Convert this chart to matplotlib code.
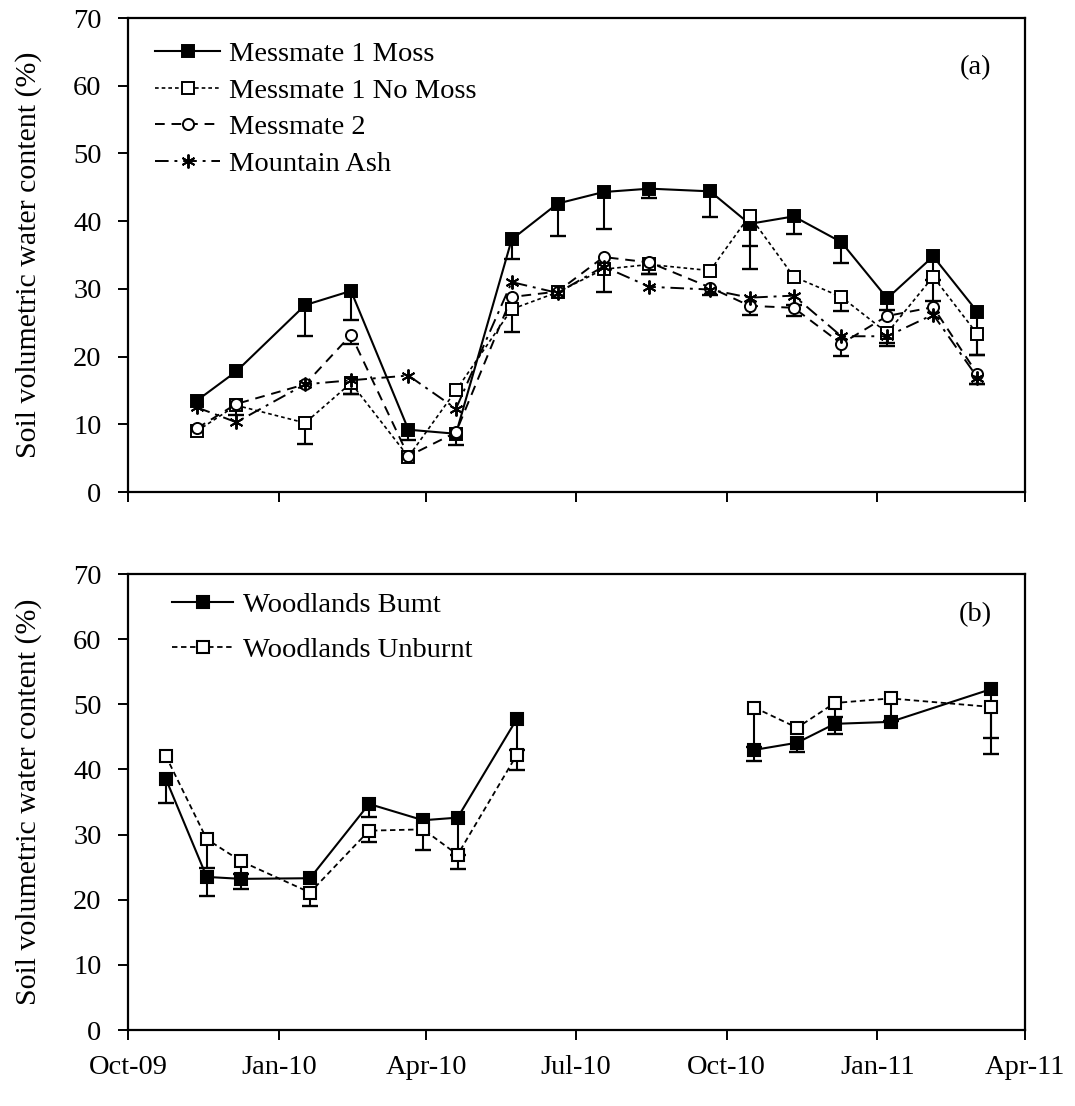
import numpy as np
import pandas as pd
import matplotlib
matplotlib.use("Agg")
import matplotlib.pyplot as plt
import matplotlib.dates as mdates

plt.rcParams['font.family'] = ['Liberation Serif', 'DejaVu Serif']

# ---------------- data: panel (a) ----------------
top_dates = ['2009-11-12', '2009-12-06', '2010-01-17', '2010-02-14', '2010-03-21',
             '2010-04-19', '2010-05-23', '2010-06-20', '2010-07-18', '2010-08-15',
             '2010-09-21', '2010-10-15', '2010-11-11', '2010-12-10', '2011-01-07',
             '2011-02-04', '2011-03-03']
moss = [13.5, 17.8, 27.6, 29.7, 9.2, 8.6, 37.3, 42.6, 44.3, 44.8, 44.4, 39.6, 40.7, 36.9, 28.6, 34.8, 26.6]
moss_err = [0, 0, 4.6, 4.3, 1.5, 1.7, 2.9, 4.8, 5.4, 1.4, 3.8, 6.6, 2.6, 3.1, 1.7, 3.5, 6.3]
nomoss = [9.0, 12.8, 10.2, 16.1, 5.2, 15.0, 27.0, 29.5, 32.9, 33.6, 32.7, 40.8, 31.8, 28.8, 23.5, 31.8, 23.3]
nomoss_err = [0, 1.5, 3.1, 1.6, 0, 0, 3.3, 0, 3.3, 1.4, 0, 4.4, 0, 2.0, 1.5, 3.6, 3.0]
messmate2 = [9.4, 13.0, 15.9, 23.2, 5.3, 8.8, 28.8, 29.6, 34.7, 33.9, 30.2, 27.5, 27.2, 21.9, 26.0, 27.3, 17.4]
messmate2_err = [0, 0, 0, 1.4, 0, 0, 0, 0, 0, 1.7, 1.1, 1.3, 1.2, 1.8, 0, 0, 1.5]
ash = [12.5, 10.3, 15.9, 16.5, 17.2, 12.3, 31.0, 29.4, 33.3, 30.3, 29.9, 28.7, 29.0, 23.0, 23.0, 26.2, 16.9]
ash_err = [0, 0, 0, 2.0, 0, 0, 0, 0, 0, 0, 0, 0, 1.4, 0, 1.5, 0, 1.0]

# ---------------- data: panel (b) ----------------
bot_dates = ['2009-10-24', '2009-11-18', '2009-12-09', '2010-01-20', '2010-02-25',
             '2010-03-30', '2010-04-20', '2010-05-26', '2010-10-18', '2010-11-13',
             '2010-12-06', '2011-01-09', '2011-03-11']
burnt = [38.6, 23.5, 23.2, 23.3, 34.7, 32.2, 32.6, 47.7, 43.0, 44.1, 47.0, 47.3, 52.3]
burnt_err = [3.7, 3.0, 1.6, 0, 2.0, 0, 5.8, 4.7, 1.7, 1.5, 1.5, 0, 7.5]
unburnt = [42.1, 29.3, 25.9, 21.1, 30.6, 30.8, 26.9, 42.2, 49.5, 46.4, 50.2, 50.9, 49.6]
unburnt_err = [0, 4.5, 2.0, 2.1, 1.8, 3.2, 2.2, 2.3, 6.0, 0, 2.1, 3.5, 7.2]

yticks = [0, 10, 20, 30, 40, 50, 60, 70]
xstart, xend = '2009-10-01', '2011-04-01'
ylabel = 'Soil volumetric water content (%)'

FS = 20.5
FS_LAB = 21.5

fig = plt.figure(figsize=(10.75, 11.06), dpi=100)
L, R = 128 / 1075, 1025 / 1075
axa = fig.add_axes([L, 1 - 492 / 1106, R - L, (492 - 18) / 1106])
axb = fig.add_axes([L, 1 - 1030 / 1106, R - L, (1030 - 574) / 1106])


def lower_errors(ax, x, y, err, zorder=1):
    x = np.asarray(x)
    y = np.asarray(y, dtype=float)
    e = np.asarray(err, dtype=float)
    m = e > 0
    ax.vlines(x[m], y[m] - e[m], y[m], color='black', lw=1.5, zorder=zorder)
    ax.plot(x[m], y[m] - e[m], ls='none', marker='_', ms=11, mew=1.7,
            color='black', zorder=zorder)


def style_axis(ax, labels=True):
    ax.set_xlim(pd.Timestamp(xstart), pd.Timestamp(xend))
    ax.set_ylim(0, 70)
    ax.set_yticks(yticks)
    ax.xaxis.set_major_locator(mdates.MonthLocator(bymonth=[1, 4, 7, 10]))
    ax.xaxis.set_major_formatter(mdates.DateFormatter('%b-%y'))
    ax.tick_params(direction='out', length=7, width=1.4, labelsize=FS)
    ax.tick_params(axis='x', pad=11)
    ax.tick_params(axis='y', pad=12)
    if not labels:
        ax.tick_params(axis='x', labelbottom=False)
    for s in ax.spines.values():
        s.set_linewidth(1.6)
    ax.set_ylabel(ylabel, fontsize=FS_LAB)
    ax.yaxis.set_label_coords((42 - 128) / 897, 0.5)


# ---------------- panel (a) ----------------
td = pd.to_datetime(top_dates)
series_a = [
    ('Messmate 1 Moss', moss, moss_err, dict(ls='-', marker='s', mfc='black', ms=9, lw=1.5)),
    ('Messmate 1 No Moss', nomoss, nomoss_err, dict(ls=(0, (2.2, 1.8)), marker='s', mfc='white', ms=8, lw=1.2)),
    ('Messmate 2', messmate2, messmate2_err, dict(ls=(0, (5, 3.5)), marker='o', mfc='white', ms=8, lw=1.4)),
    ('Mountain Ash', ash, ash_err, dict(ls=(0, (7, 3, 1.5, 3)), marker=(6, 2, 0), ms=10, lw=1.4)),
]
for i, (name, vals, err, st) in enumerate(series_a):
    lower_errors(axa, td, vals, err, zorder=2)
    axa.plot(td, vals, color='black', mec='black', mew=1.4, label=name, zorder=3 + i, **st)

style_axis(axa, labels=False)
axa.legend(loc='upper left', bbox_to_anchor=(0.030, 0.951), frameon=False, fontsize=FS,
           handlelength=2.3, handletextpad=0.3, labelspacing=0.37, numpoints=1,
           borderpad=0, borderaxespad=0)
axa.text(0.945, 0.896, '(a)', transform=axa.transAxes, fontsize=FS, ha='center', va='center')

# ---------------- panel (b) ----------------
bd = pd.to_datetime(bot_dates)
gaps = np.where(np.diff(bd.values).astype('timedelta64[D]').astype(int) > 90)[0] + 1
bounds = [0] + list(gaps) + [len(bd)]

series_b = [
    ('Woodlands Bumt', burnt, burnt_err, dict(ls='-', marker='s', mfc='black', ms=9, lw=1.5)),
    ('Woodlands Unburnt', unburnt, unburnt_err, dict(ls=(0, (3, 2)), marker='s', mfc='white', ms=9, lw=1.3)),
]
for i, (name, vals, err, st) in enumerate(series_b):
    vals = np.asarray(vals, dtype=float)
    lower_errors(axb, bd, vals, err, zorder=2)
    for k in range(len(bounds) - 1):
        a, b = bounds[k], bounds[k + 1]
        axb.plot(bd[a:b], vals[a:b], color='black', mec='black', mew=1.5,
                 label=name if k == 0 else None, zorder=3 + i, **st)

style_axis(axb, labels=True)
axb.legend(loc='upper left', bbox_to_anchor=(0.049, 0.960), frameon=False, fontsize=FS,
           handlelength=2.15, handletextpad=0.35, labelspacing=0.67, numpoints=1,
           borderpad=0, borderaxespad=0)
axb.text(0.945, 0.91, '(b)', transform=axb.transAxes, fontsize=FS, ha='center', va='center')

fig.savefig('out.png', dpi=100)
